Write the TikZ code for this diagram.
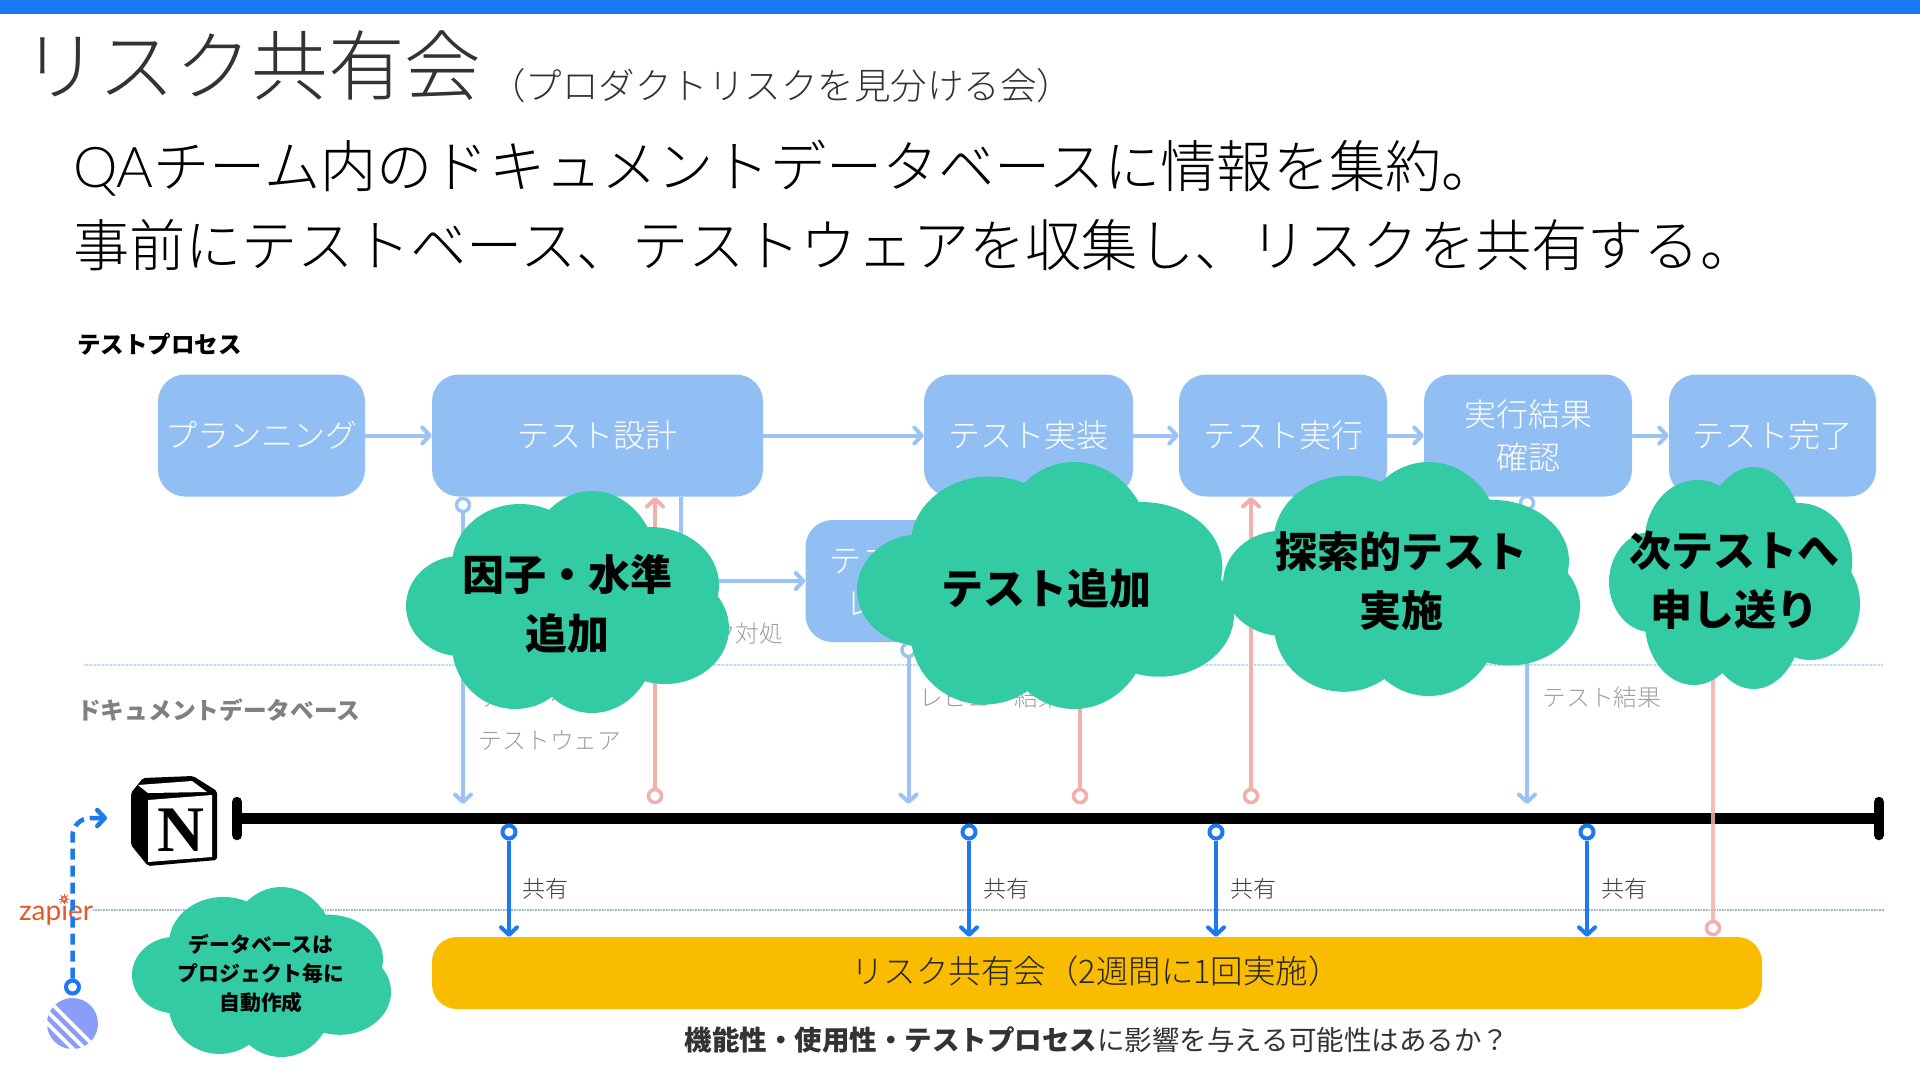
\documentclass[tikz,border=0pt]{standalone}
\usepackage{fontspec}
\setmainfont{Noto Sans CJK JP}
\newfontfamily\jl{Noto Sans CJK JP Light}
\newfontfamily\zapfont{Lato}
\newfontfamily\nfont{Liberation Serif}
\newfontfamily\latinfont{Lato Light}
\usetikzlibrary{arrows.meta}
\definecolor{boxblue}{HTML}{92BFF3}
\definecolor{linkblue}{HTML}{9CC3F5}
\definecolor{darkblue}{HTML}{1E78EE}
\definecolor{topblue}{HTML}{1B78F3}
\definecolor{softred}{HTML}{F3B0AB}
\definecolor{cloudgreen}{HTML}{32CBA3}
\definecolor{barorange}{HTML}{F9BC00}
\definecolor{zaporange}{HTML}{E8562A}
\definecolor{logoblue}{HTML}{8A9DF8}
\newcommand{\fs}[1]{\fontsize{#1}{#1}\selectfont}
\newcommand{\cloudat}[4]{%
  \begin{scope}[shift={(#1,#2)},xscale={#3/323},yscale={#4/222}]
    \fill[cloudgreen] (186,79) ellipse [x radius=66,y radius=79];
    \fill[cloudgreen] (114,74) ellipse [x radius=68,y radius=61];
    \fill[cloudgreen] (244,94) ellipse [x radius=69,y radius=58];
    \fill[cloudgreen] (54,115) ellipse [x radius=54,y radius=50];
    \fill[cloudgreen] (259,137) ellipse [x radius=64,y radius=56];
    \fill[cloudgreen] (186,149) ellipse [x radius=64,y radius=73];
    \fill[cloudgreen] (109,154) ellipse [x radius=63,y radius=64];
    \fill[cloudgreen] (164,109) ellipse [x radius=120,y radius=85];
  \end{scope}}
\tikzset{
  tipbarb/.style={-{Straight Barb[length=7.5pt,width=16pt,line width=4pt,round]}},
  procbox/.style={fill=boxblue,rounded corners=27pt,inner sep=0pt,minimum height=122pt,text=white,align=center,font=\jl\fontsize{32}{43}\selectfont},
  flow/.style={linkblue,line width=4pt,tipbarb},
  redflow/.style={softred,line width=4pt,tipbarb},
  share/.style={darkblue,line width=4pt,tipbarb},
  ringblue/.style={circle,draw=linkblue,fill=white,line width=3.5pt,minimum size=13pt,inner sep=0pt},
  ringred/.style={circle,draw=softred,fill=white,line width=3.5pt,minimum size=13pt,inner sep=0pt},
  ringdark/.style={circle,draw=darkblue,fill=white,line width=4pt,minimum size=13pt,inner sep=0pt},
  graytext/.style={text=black!38,inner sep=0pt,font=\jl\fs{23.7}},
  sharetext/.style={text=black!75,inner sep=0pt,font=\jl\fs{23}},
  cloudbig/.style={text=black,inner sep=0pt,align=center,font=\bfseries\fontsize{42}{59}\selectfont},
}
\begin{document}
\begin{tikzpicture}[x=1pt,y=-1pt]
\useasboundingbox (0,0) rectangle (1920,1080);
\fill[white] (0,0) rectangle (1920,1080);
\fill[topblue] (0,0) rectangle (1920,14);

% headings
\node[anchor=west,inner sep=0pt,text=black!80,font=\jl\fs{76.5}] (title) at (22,66) {リスク共有会};
\node[inner sep=0pt,text=black!80,font=\jl\fs{36.5}] (subtitle) at (781,86) {（プロダクトリスクを見分ける会）};
\node[anchor=west,inner sep=0pt,text=black,font=\jl\fs{56.2}] (lineone) at (73,168) {{\latinfont QA}チーム内のドキュメントデータベースに情報を集約。};
\node[anchor=west,inner sep=0pt,text=black,font=\jl\fs{56.2}] (linetwo) at (73,245) {事前にテストベース、テストウェアを収集し、リスクを共有する。};
\node[anchor=west,inner sep=0pt,text=black,font=\bfseries\fs{23.5}] (lblproc) at (77,344) {テストプロセス};
\node[anchor=west,inner sep=0pt,text=black!50,font=\bfseries\fs{23.7}] (lbldoc) at (77,710) {ドキュメントデータベース};

% dividers
\coordinate (d1a) at (84,665); \coordinate (d1b) at (1884,665);
\coordinate (d2a) at (93,910); \coordinate (d2b) at (1884,910);
\draw[linkblue!70,line width=1.3pt,dash pattern=on 1pt off 0.6pt] (d1a) -- (d1b);
\draw[linkblue!80!gray,line width=1.3pt,dash pattern=on 1pt off 0.6pt] (d2a) -- (d2b);

% process boxes
\node[procbox,minimum width=207pt] (plan) at (261.5,435.5) {プランニング};
\node[procbox,minimum width=331pt] (design) at (597.5,435.5) {テスト設計};
\node[procbox,minimum width=209pt] (impl) at (1028.5,435.5) {テスト実装};
\node[procbox,minimum width=208pt] (exec) at (1283,435.5) {テスト実行};
\node[procbox,minimum width=208pt] (confirm) at (1528,435.5) {実行結果\\確認};
\node[procbox,minimum width=207pt] (done) at (1772.5,435.5) {テスト完了};
\node[procbox,minimum width=208pt] (review) at (909.5,581) {テスト設計\\レビュー};
\draw[flow] (plan) -- (design);
\draw[flow] (design) -- (impl);
\draw[flow] (impl) -- (exec);
\draw[flow] (exec) -- (confirm);
\draw[flow] (confirm) -- (done);

% timeline
\coordinate (tl1) at (237,818); \coordinate (tl2) at (1879,818);
\coordinate (cap1a) at (237,802); \coordinate (cap1b) at (237,835);
\coordinate (cap2a) at (1879,802); \coordinate (cap2b) at (1879,835);
\draw[black,line width=11pt] (tl1) -- (tl2);
\draw[black,line width=10.5pt,line cap=round] (cap1a) -- (cap1b);
\draw[black,line width=10.5pt,line cap=round] (cap2a) -- (cap2b);

% links between process and database
\node[ringblue] (r1) at (463,505) {};
\coordinate (r1e) at (463,804);
\draw[flow] (r1) -- (r1e);
\coordinate (b3a) at (681,497);
\draw[flow] (b3a) |- (review.west);
\node[ringred] (r2) at (655,796) {};
\coordinate (r2e) at (655,497);
\draw[redflow] (r2) -- (r2e);
\node[ringblue] (r3) at (908.5,650) {};
\coordinate (r3e) at (908.5,804);
\draw[flow] (r3) -- (r3e);
\node[ringred] (r4) at (1080,796) {};
\coordinate (r4e) at (1080,497);
\draw[redflow] (r4) -- (r4e);
\node[ringred] (r5) at (1251,796) {};
\coordinate (r5e) at (1251,497);
\draw[redflow] (r5) -- (r5e);
\node[ringblue] (r6) at (1527,503) {};
\coordinate (r6e) at (1527,804);
\draw[flow] (r6) -- (r6e);

% gray labels
\node[graytext] (g1) at (550,698) {テストベース};
\node[graytext] (g2) at (550,741) {テストウェア};
\node[graytext] (g3) at (724,633) {リスク対処};
\node[graytext] (g4) at (991,698) {レビュー結果};
\node[graytext] (g5) at (1602,698) {テスト結果};

% yellow bar
\node[fill=barorange,rounded corners=25pt,inner sep=0pt,minimum width=1330pt,minimum height=72pt] (bar) at (1097,973) {};
\node[inner sep=0pt,text=black!85,font=\jl\fs{32.5}] (bartext) at (1096,971) {リスク共有会（2週間に1回実施）};
\node[inner sep=0pt,text=black!80,font=\fs{27.5}] (question) at (1097,1040) {\textbf{機能性・使用性・テストプロセス}に影響を与える可能性はあるか？};

% red line to test completion
\node[ringred] (r7) at (1713,928) {};
\coordinate (r7e) at (1713,497);
\draw[softred,line width=4pt,opacity=.85] (r7) -- (r7e);

% share arrows
\node[ringdark] (s1) at (509,832) {};
\node[ringdark] (s2) at (969,832) {};
\node[ringdark] (s3) at (1216,832) {};
\node[ringdark] (s4) at (1587,832) {};
\draw[share] (s1) -- (s1 |- bar.north);
\draw[share] (s2) -- (s2 |- bar.north);
\draw[share] (s3) -- (s3 |- bar.north);
\draw[share] (s4) -- (s4 |- bar.north);
\node[sharetext] (t1) at (545,889) {共有};
\node[sharetext] (t2) at (1006,889) {共有};
\node[sharetext] (t3) at (1253,889) {共有};
\node[sharetext] (t4) at (1624,889) {共有};

% clouds
\cloudat{406}{491}{323}{222}
\cloudat{857}{462}{377}{247}
\cloudat{1223}{462}{357}{234}
\cloudat{1609}{467}{251}{222}
\cloudat{132}{887}{259}{170}
\node[cloudbig] (c1) at (567,604) {因子・水準\\追加};
\node[cloudbig] (c2) at (1046,589) {テスト追加};
\node[cloudbig] (c3) at (1401,581) {探索的テスト\\実施};
\node[cloudbig] (c4) at (1734,580) {次テストへ\\申し送り};
\node[inner sep=0pt,text=black,align=center,font=\bfseries\fontsize{20.8}{29}\selectfont] (c5) at (261,973) {データベースは\\プロジェクト毎に\\自動作成};

% Notion logo
\fill[black,rounded corners=2pt] (131,793) -- (143,778) -- (193,776) -- (217,791) -- (217,860) -- (148,866) -- (131,845) -- cycle;
\fill[white] (138,785) -- (192,781) -- (207,792) -- (148,793) -- cycle;
\fill[white] (148,800) -- (212,795) -- (212,857) -- (148,862) -- cycle;
\node[inner sep=0pt,text=black,font=\nfont\bfseries\fs{65}] (notionN) at (180.5,830) {N};

% zapier
\node[inner sep=0pt,text=zaporange,font=\zapfont\fs{28}] (zap) at (56,913) {zapier};
\fill[zaporange] (64,899) circle (3pt);
\foreach \a in {0,45,...,315}{\draw[zaporange,line width=1pt] (64,899) -- ++(\a:5pt);}
\fill[white] (64,899) circle (1.4pt);

% linear logo
\begin{scope}
  \clip (72.5,1023.5) circle (25.5pt);
  \fill[logoblue] (47,997) rectangle (98,1050);
  \draw[white,line width=3.6pt] (40,992) -- (100,1052);
  \draw[white,line width=3.6pt] (40,1004) -- (90,1054);
  \draw[white,line width=3.6pt] (40,1016) -- (80,1056);
\end{scope}

% dashed connector
\node[ringdark] (zc) at (72.5,987) {};
\coordinate (zend) at (107,818);
\coordinate (zbend) at (99,818);
\draw[darkblue,line width=4.5pt,dash pattern=on 11pt off 6pt,rounded corners=18pt] (zc) |- (zbend);
\draw[darkblue,line width=4.5pt,-{Straight Barb[length=7.5pt,width=16pt,line width=4.5pt,round]}] (zbend) -- (zend);
\end{tikzpicture}
\end{document}
